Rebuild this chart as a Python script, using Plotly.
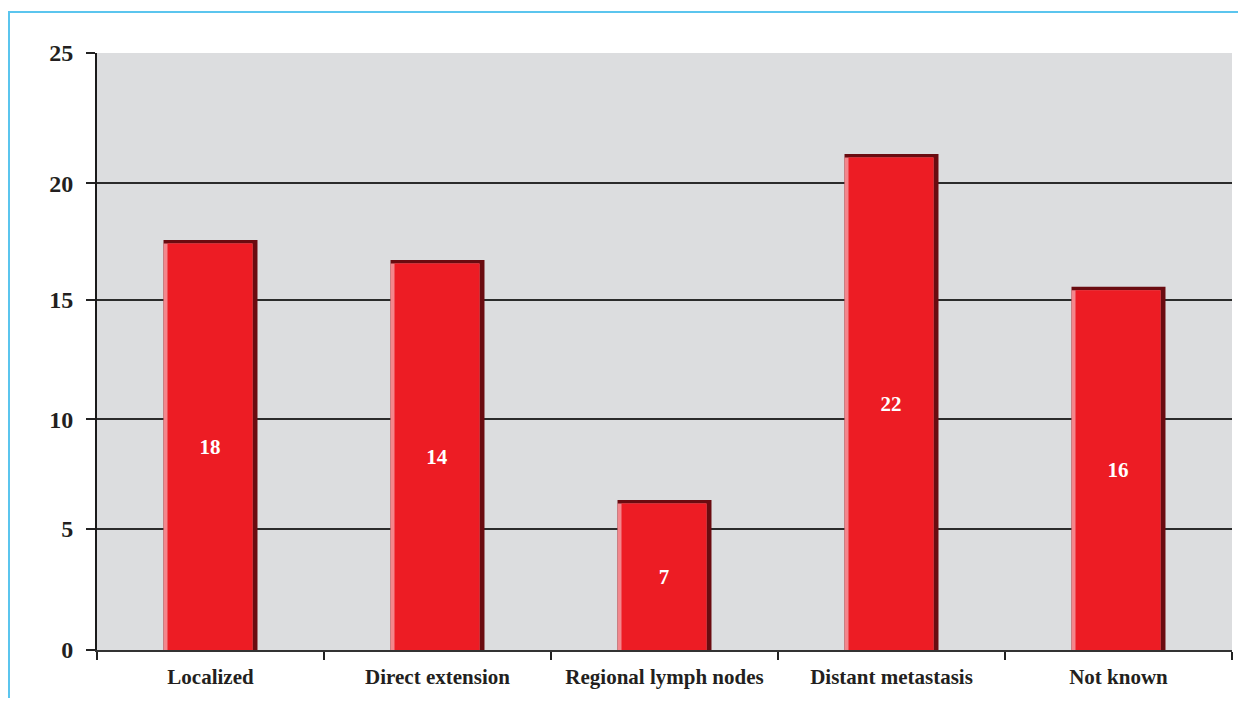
import plotly.graph_objects as go

# ---- data ----
categories = ["Localized", "Direct extension", "Regional lymph nodes", "Distant metastasis", "Not known"]
bar_heights = [17.17, 16.33, 6.28, 20.77, 15.21]
bar_labels = ["18", "14", "7", "22", "16"]
y_tick_vals = [0, 5.07, 9.66, 14.66, 19.54, 25]
y_tick_labels = ["0", "5", "10", "15", "20", "25"]

# ---- style constants ----
FONT = "Liberation Serif, Times New Roman, serif"
TEXT = "#231F20"
W = 0.414            # bar width (category units)
R_SHADE = 5 / 227    # right dark edge width
L_SHADE = 4 / 227    # left light edge width
T_SHADE = 3.5 / 23.88  # top dark edge height (y units)

fig = go.Figure()

# dark body (gives top and right shadow)
fig.add_trace(go.Bar(
    x=categories, y=bar_heights, width=W, offset=-W / 2,
    marker=dict(color="#6A0B10", line=dict(width=0)),
    hoverinfo="skip", showlegend=False,
))
# light left edge
fig.add_trace(go.Bar(
    x=categories, y=[v - T_SHADE for v in bar_heights],
    width=W - R_SHADE, offset=-W / 2,
    marker=dict(color="#F3868C", line=dict(width=0)),
    hoverinfo="skip", showlegend=False,
))
# main red face with labels
fig.add_trace(go.Bar(
    x=categories, y=[v - T_SHADE for v in bar_heights],
    width=W - R_SHADE - L_SHADE, offset=-W / 2 + L_SHADE,
    marker=dict(color="#ED1C24", line=dict(width=0)),
    text=bar_labels, textposition="inside", insidetextanchor="middle",
    textangle=0,
    textfont=dict(family=FONT, size=21, color="white", weight=700),
    showlegend=False,
))

fig.update_layout(
    width=1230, height=690,
    barmode="overlay",
    paper_bgcolor="white",
    plot_bgcolor="#DCDDDF",
    margin=dict(l=89, r=6, t=45, b=48),
    font=dict(family=FONT, color=TEXT),
    xaxis=dict(
        type="category", range=[-0.5, 4.5],
        showline=True, linecolor="#333333", linewidth=2,
        ticks="outside", tickson="boundaries", ticklen=8, tickcolor="#222222", tickwidth=1.5,
        ticklabelstandoff=7,
        tickfont=dict(family=FONT, size=21, color=TEXT, weight=700),
        showgrid=False, zeroline=False,
    ),
    yaxis=dict(
        range=[0, 25],
        tickvals=y_tick_vals, ticktext=y_tick_labels,
        showline=True, linecolor="#1a1a1a", linewidth=2,
        ticks="outside", ticklen=9, tickcolor="#222222", tickwidth=1.5,
        ticklabelstandoff=8,
        tickfont=dict(family=FONT, size=24, color=TEXT, weight=700),
        showgrid=True, gridcolor="#2b2b2b", gridwidth=1.5,
        zeroline=False,
    ),
    shapes=[
        dict(type="rect", xref="paper", yref="paper",
             x0=(9 - 97) / 1135, x1=1.2, y0=-0.3, y1=(650 - 12) / 597,
             line=dict(color="#5BC5EE", width=2), fillcolor="rgba(0,0,0,0)",
             layer="below"),
    ],
)

fig.write_html("out.html")
